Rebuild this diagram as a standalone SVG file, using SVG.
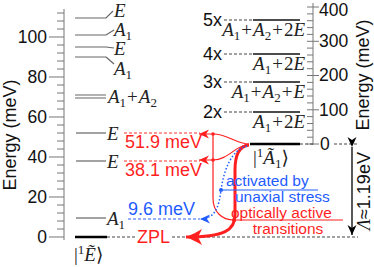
<svg xmlns="http://www.w3.org/2000/svg" width="374" height="267" viewBox="0 0 374 267">
<style>
.sans{font-family:"Liberation Sans",Arial,sans-serif;font-size:18px}
.note{font-family:"Liberation Sans",Arial,sans-serif;font-size:15.5px}
.axl{font-family:"Liberation Sans",Arial,sans-serif;font-size:17.5px;fill:#111}
.m{font-family:"Liberation Serif","Times New Roman","DejaVu Serif",serif;font-size:19px;fill:#222}
.i{font-style:italic}
.sb{font-size:13px}
.red{fill:#ff1f1f}
.blue{fill:#1f5cff}
.lvl{stroke:#666;stroke-width:1.2;fill:none}
.ax{stroke:#777;stroke-width:1;fill:none}
.dash{stroke:#444;stroke-width:1;stroke-dasharray:3 2;fill:none}
.rdash{stroke:#ff3030;stroke-width:1;stroke-dasharray:3 2;fill:none}
.bdash{stroke:#3060ff;stroke-width:1;stroke-dasharray:3 2;fill:none}
.rthin{stroke:#ff1f1f;stroke-width:1.2;fill:none}
</style>
<defs>
<marker id="ar" markerUnits="userSpaceOnUse" markerWidth="12" markerHeight="10" refX="10" refY="5" orient="auto">
<path d="M10,5 L0,0.5 L3,5 L0,9.5 z" fill="#ff1f1f"/>
</marker>
<marker id="ab" markerUnits="userSpaceOnUse" markerWidth="12" markerHeight="10" refX="10" refY="5" orient="auto">
<path d="M10,5 L0,0.5 L3,5 L0,9.5 z" fill="#1f5cff"/>
</marker>
<marker id="abig" markerUnits="userSpaceOnUse" markerWidth="18" markerHeight="16" refX="16" refY="8" orient="auto">
<path d="M16,8 C11,6 5,3 0,0 L4,8 L0,16 C5,13 11,10 16,8 z" fill="#ff1f1f"/>
</marker>
<marker id="ak" markerUnits="userSpaceOnUse" markerWidth="12" markerHeight="10" refX="10" refY="5" orient="auto">
<path d="M10,5 L0,0.5 L3,5 L0,9.5 z" fill="#000"/>
</marker>
</defs>

<g id="left-axis">
<path class="ax" d="M64,9 V240"/>
<path class="ax" d="M57,237H64M57,229H64M57,221H64M57,213H64M57,205H64M49,197H64M57,189H64M57,181H64M57,173H64M57,165H64M49,157H64M57,149H64M57,141H64M57,133H64M57,125H64M49,117H64M57,109H64M57,101H64M57,93H64M57,85H64M49,77H64M57,69H64M57,61H64M57,53H64M57,45H64M49,37H64M57,29H64M57,21H64M57,13H64M49,237H57"/>
<g class="axl" text-anchor="end">
<text x="47" y="243">0</text>
<text x="47" y="203">20</text>
<text x="47" y="163">40</text>
<text x="47" y="123">60</text>
<text x="47" y="83">80</text>
<text x="47" y="43">100</text>
</g>
<text class="sans" fill="#111" transform="translate(16,135) rotate(-90)" text-anchor="middle">Energy (meV)</text>
</g>

<g id="right-axis">
<path class="ax" d="M313,3 V145"/>
<path class="ax" d="M307,144H313M307,137.2H313M307,130.3H313M307,123.5H313M307,116.6H313M307,109.8H313M307,102.9H313M307,96H313M307,89.2H313M307,82.4H313M307,75.5H313M307,68.7H313M307,61.8H313M307,55H313M307,48.1H313M307,41.3H313M307,34.4H313M307,27.6H313M307,20.7H313M307,13.9H313M307,7H313M313,144H319M313,109.8H319M313,75.5H319M313,41.3H319M313,7H319"/>
<g class="axl">
<text x="320" y="150">0</text>
<text x="319" y="116">100</text>
<text x="319" y="81">200</text>
<text x="319" y="47">300</text>
<text x="319" y="15.5">400</text>
</g>
<text class="sans" fill="#111" transform="translate(369,75) rotate(-90)" text-anchor="middle">Energy (meV)</text>
</g>

<g id="ground-state">
<path d="M75,237 H107" stroke="#000" stroke-width="2.5"/>
<text class="m" x="74" y="261">|<tspan class="sb" dy="-7">1</tspan><tspan class="i" dy="7">Ẽ</tspan>⟩</text>
</g>

<g id="level-A1-9.6">
<path class="lvl" d="M76,218 H106"/>
<text class="m" x="107" y="225"><tspan class="i">A</tspan><tspan class="sb" dy="4">1</tspan></text>
</g>
<g id="level-E-38.1">
<path class="lvl" d="M76,161 H106"/>
<text class="m i" x="107" y="168">E</text>
</g>
<g id="level-E-51.9">
<path class="lvl" d="M76,133 H106"/>
<text class="m i" x="107" y="140">E</text>
</g>
<g id="level-A1A2">
<path class="lvl" d="M75,95 H106 M75,98 H106"/>
<text class="m" x="108" y="103"><tspan class="i">A</tspan><tspan class="sb" dy="4">1</tspan><tspan dy="-4" dx="1">+</tspan><tspan class="i" dx="1">A</tspan><tspan class="sb" dy="4">2</tspan></text>
</g>
<g id="level-A1-90">
<path class="lvl" d="M75,57 H106 M106,57 L114,64"/>
<text class="m" x="114" y="75"><tspan class="i">A</tspan><tspan class="sb" dy="4">1</tspan></text>
</g>
<g id="level-E-95">
<path class="lvl" d="M75,47 H106 L114,48"/>
<text class="m i" x="114" y="55">E</text>
</g>
<g id="level-A1-101">
<path class="lvl" d="M75,35 H106 L114,30"/>
<text class="m" x="114" y="36"><tspan class="i">A</tspan><tspan class="sb" dy="4">1</tspan></text>
</g>
<g id="level-E-110">
<path class="lvl" d="M75,18 H106 L113,11"/>
<text class="m i" x="114" y="17">E</text>
</g>

<g id="excited-state">
<path d="M250,144 H300" stroke="#000" stroke-width="2.5"/>
<path class="dash" d="M300,144 H313 M334,144 H358"/>
<text class="m" x="253" y="164">|<tspan class="sb" dy="-7">1</tspan><tspan class="i" dy="7">Ã</tspan><tspan class="sb" dy="4">1</tspan><tspan dy="-4">⟩</tspan></text>
</g>

<g id="phonon-2x">
<path class="dash" d="M224,112 H253"/>
<path d="M253,112 H300" stroke="#111" stroke-width="1.3"/>
<text class="sans" fill="#111" x="203" y="118">2x</text>
<text class="m" x="305" y="128" text-anchor="end"><tspan class="i">A</tspan><tspan class="sb" dy="4">1</tspan><tspan dy="-4" dx="1">+</tspan><tspan dx="1">2</tspan><tspan class="i">E</tspan></text>
</g>
<g id="phonon-3x">
<path class="dash" d="M224,82 H253"/>
<path d="M253,82 H300" stroke="#111" stroke-width="1.3"/>
<text class="sans" fill="#111" x="203" y="88">3x</text>
<text class="m" x="305" y="98" text-anchor="end"><tspan class="i">A</tspan><tspan class="sb" dy="4">1</tspan><tspan dy="-4" dx="1">+</tspan><tspan class="i" dx="1">A</tspan><tspan class="sb" dy="4">2</tspan><tspan dy="-4" dx="1">+</tspan><tspan class="i" dx="1">E</tspan></text>
</g>
<g id="phonon-4x">
<path class="dash" d="M224,54 H253"/>
<path d="M253,54 H300" stroke="#111" stroke-width="1.3"/>
<text class="sans" fill="#111" x="203" y="60">4x</text>
<text class="m" x="305" y="70" text-anchor="end"><tspan class="i">A</tspan><tspan class="sb" dy="4">1</tspan><tspan dy="-4" dx="1">+</tspan><tspan dx="1">2</tspan><tspan class="i">E</tspan></text>
</g>
<g id="phonon-5x">
<path class="dash" d="M224,20 H253"/>
<path d="M253,20 H300" stroke="#111" stroke-width="1.3"/>
<text class="sans" fill="#111" x="203" y="26">5x</text>
<text class="m" x="305" y="36" text-anchor="end"><tspan class="i">A</tspan><tspan class="sb" dy="4">1</tspan><tspan dy="-4" dx="1">+</tspan><tspan class="i" dx="1">A</tspan><tspan class="sb" dy="4">2</tspan><tspan dy="-4" dx="1">+</tspan><tspan dx="1">2</tspan><tspan class="i">E</tspan></text>
</g>

<g id="connectors">
<path class="rdash" d="M124,133 H200 M124,161 H200"/>
<path class="bdash" d="M128,219 H200"/>
<path class="dash" d="M107,237 H136 M172,237 H358"/>
<path class="rthin" d="M249,144 C236,144 228,134 213,134 L199,134" marker-end="url(#ar)"/>
<path class="rthin" d="M249,144 C236,145 228,160 213,160 L199,160" marker-end="url(#ar)"/>
<path class="rthin" d="M213,134 V198 C213,212 222,220 234,220 H343"/>
<path d="M249,145 C239,146 235,155 235,170 V215 C235,230 225,237 186,237" fill="none" stroke="#ff1f1f" stroke-width="3" marker-end="url(#abig)"/>
<path d="M247,146 C231,150 224,170 221,190 C219,207 215,219 200,219" fill="none" stroke="#1f5cff" stroke-width="1.5" stroke-dasharray="1.5 2" marker-end="url(#ab)"/>
<path d="M221,190 H318" stroke="#1f5cff" stroke-width="1"/>
<circle cx="213" cy="134" r="1.8" fill="#ff1f1f"/>
<circle cx="213" cy="160" r="1.8" fill="#ff1f1f"/>
<circle cx="234" cy="220" r="2" fill="#ff1f1f"/>
<circle cx="221" cy="190" r="2" fill="#1f5cff"/>
<path d="M352,147 V235" stroke="#000" stroke-width="1.3" marker-start="url(#ak)" marker-end="url(#ak)"/>
</g>

<g id="labels">
<text class="sans red" x="125" y="148" font-size="17">51.9 meV</text>
<text class="sans red" x="125" y="176" font-size="17">38.1 meV</text>
<text class="sans blue" x="128" y="215" font-size="17">9.6 meV</text>
<text class="sans red" x="137" y="243">ZPL</text>
<text class="note blue" x="226" y="186">activated by</text>
<text class="note blue" x="235" y="202">unaxial stress</text>
<text class="note red" x="231" y="218">optically active</text>
<text class="note red" x="288" y="233.5" text-anchor="middle">transitions</text>
<text class="sans" fill="#111" transform="translate(370,191) rotate(-90)" text-anchor="middle"><tspan font-family="Liberation Serif,serif" font-style="italic">Λ</tspan>≈1.19eV</text>
</g>
</svg>
